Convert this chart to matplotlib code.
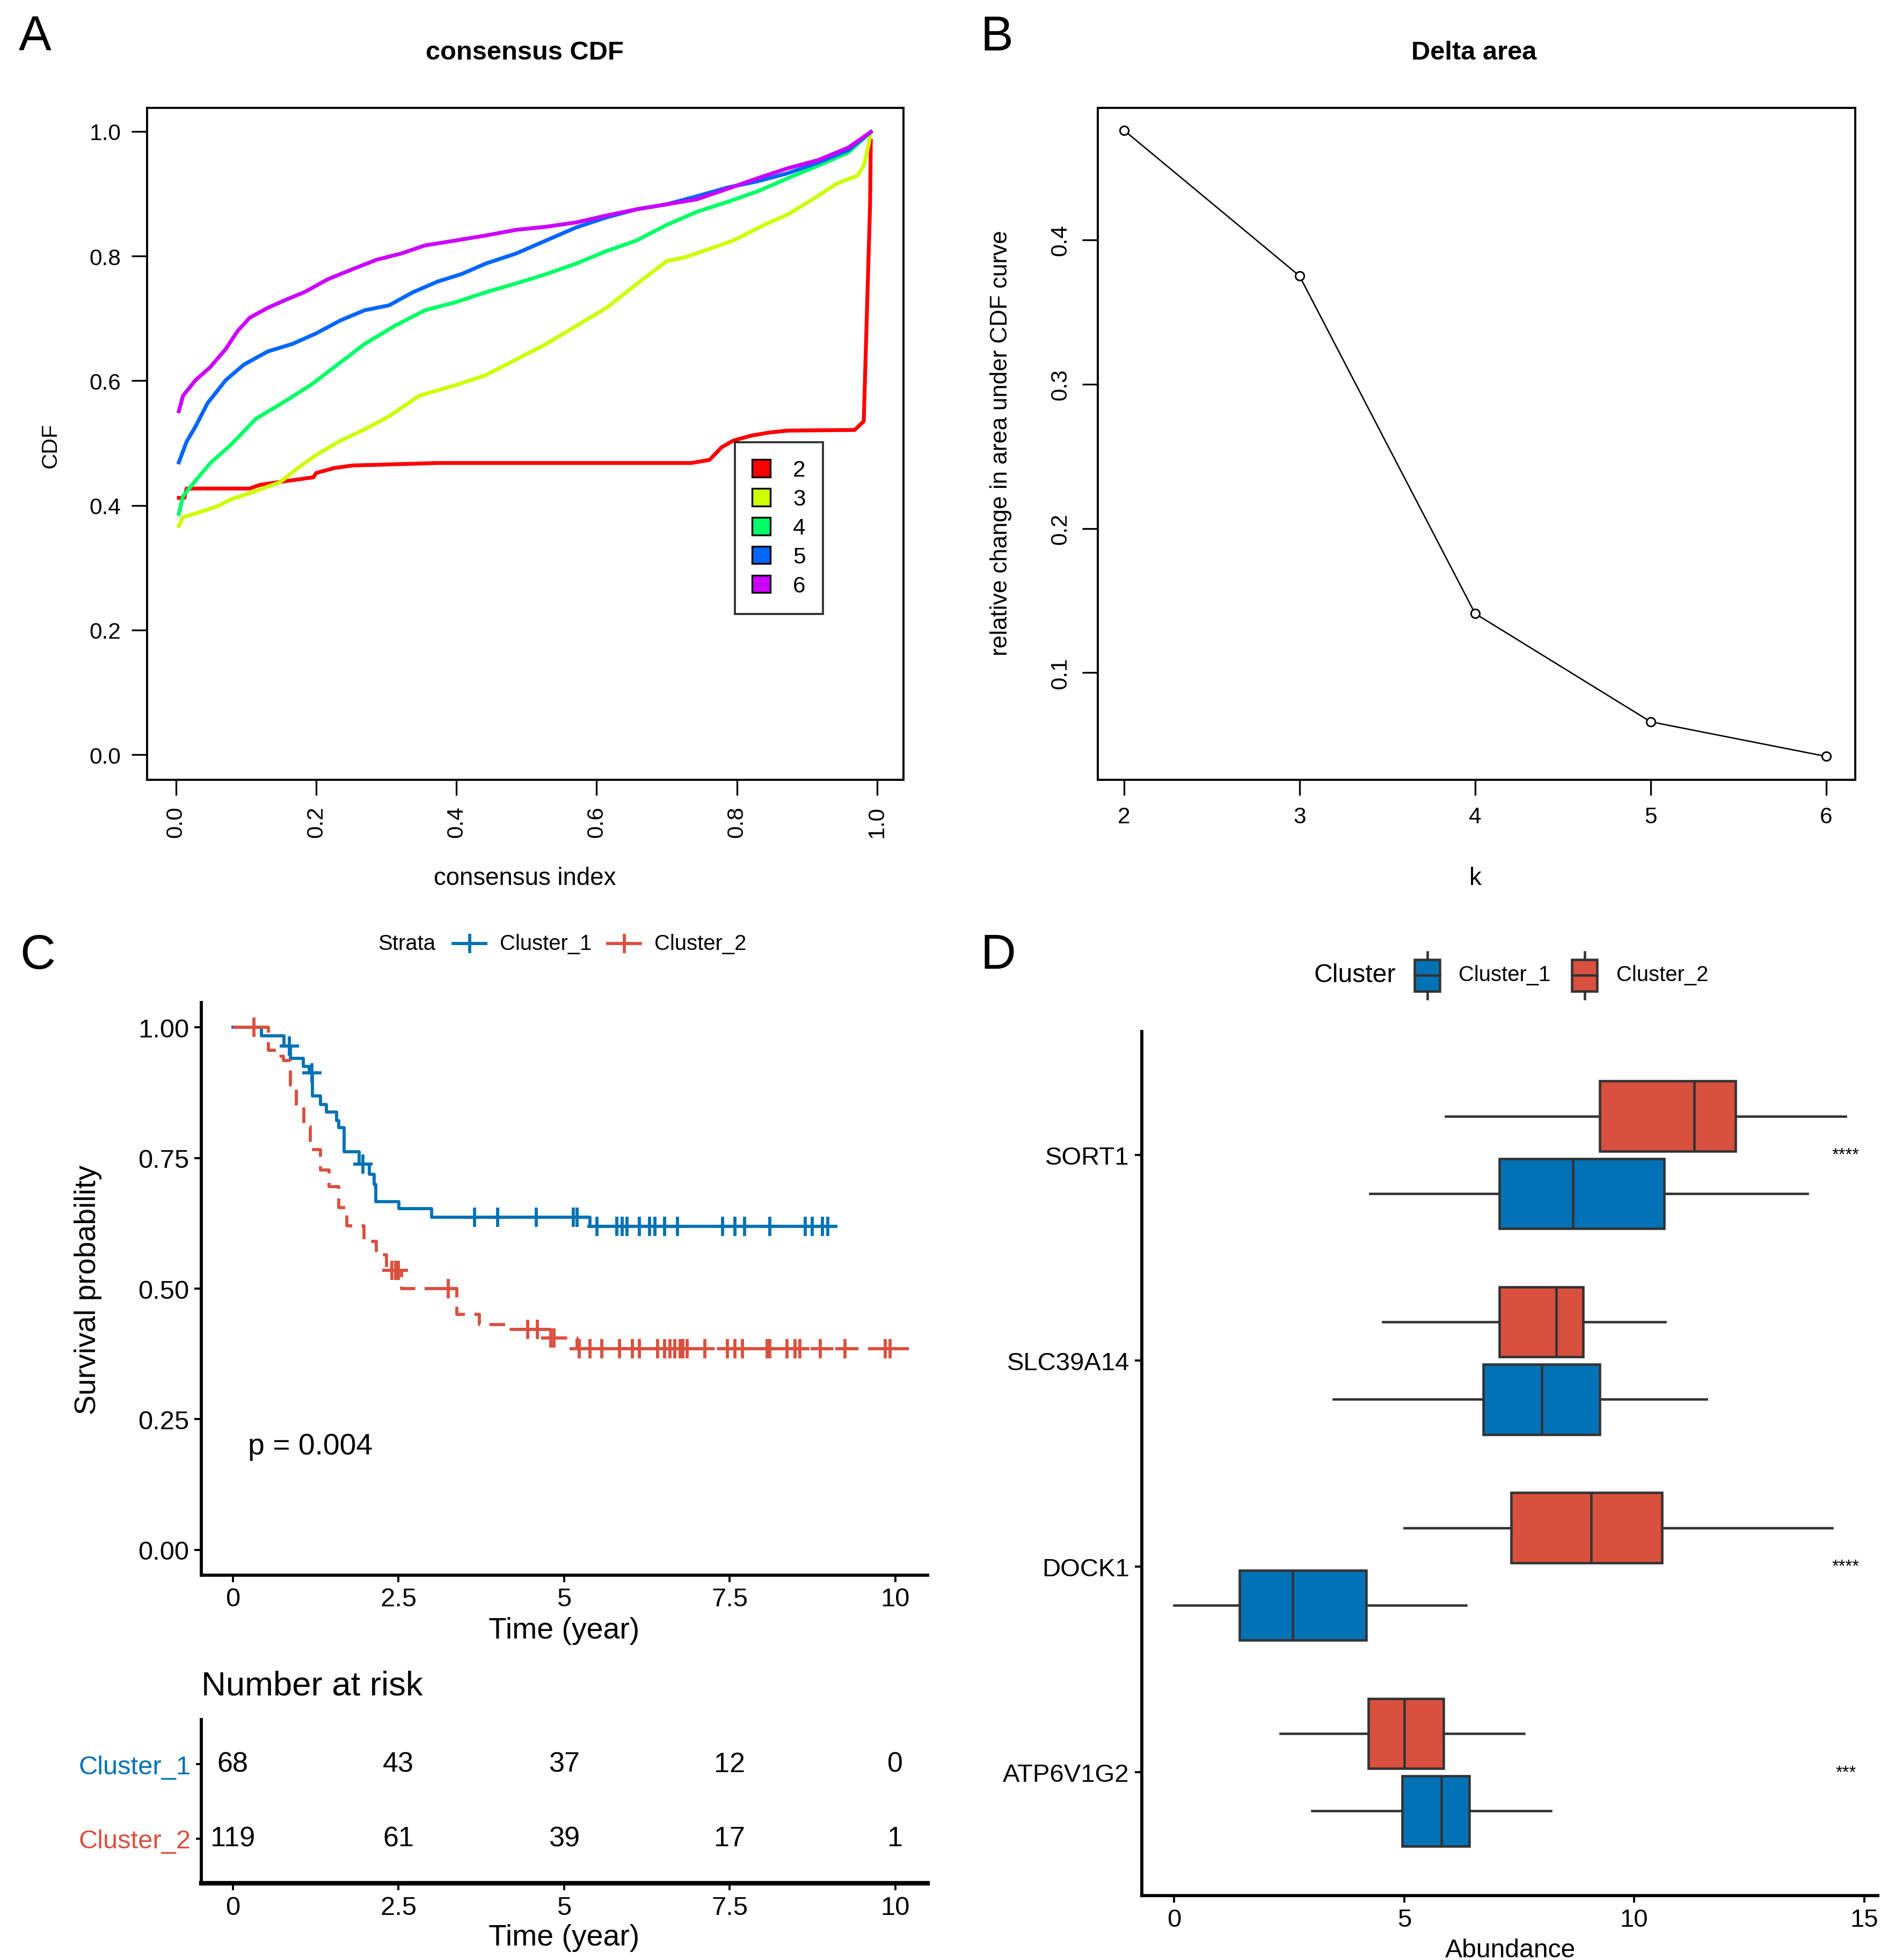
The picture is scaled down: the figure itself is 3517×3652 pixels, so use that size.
import numpy as np
import matplotlib
matplotlib.use('Agg')
import matplotlib.pyplot as plt
from matplotlib.lines import Line2D
from matplotlib.patches import Patch, Rectangle

plt.rcParams['font.family'] = ['Liberation Sans', 'DejaVu Sans']

# ---------------- Panel A: consensus CDF ----------------
cdf_labels = ['2', '3', '4', '5', '6']
cdf_colors = ['#FF0000', '#CCFF00', '#00FF66', '#0066FF', '#CC00FF']
k2_x = [0.004, 0.012, 0.015, 0.105, 0.12, 0.157, 0.196, 0.2, 0.226, 0.252, 0.373, 0.735, 0.761, 0.778,
        0.795, 0.821, 0.847, 0.873, 0.968, 0.981, 0.984, 0.987, 0.99, 0.991]
k2_y = [0.412, 0.412, 0.427, 0.427, 0.433, 0.439, 0.445, 0.452, 0.46, 0.464, 0.468, 0.468, 0.473, 0.493,
        0.504, 0.512, 0.517, 0.52, 0.521, 0.535, 0.651, 0.767, 0.883, 0.985]
k3_x = [0.004, 0.01, 0.036, 0.058, 0.079, 0.114, 0.148, 0.174, 0.2, 0.235, 0.269, 0.304, 0.347,
        0.399, 0.442, 0.485, 0.528, 0.571, 0.614, 0.657, 0.7, 0.726, 0.752, 0.795, 0.839, 0.873,
        0.908, 0.942, 0.972, 0.981, 0.987, 0.991]
k3_y = [0.367, 0.381, 0.39, 0.398, 0.41, 0.423, 0.437, 0.46, 0.481, 0.504, 0.522, 0.543, 0.576,
        0.593, 0.609, 0.634, 0.659, 0.688, 0.717, 0.755, 0.792, 0.798, 0.808, 0.825, 0.85, 0.867,
        0.891, 0.916, 0.929, 0.945, 0.974, 0.999]
k4_x = [0.004, 0.01, 0.028, 0.049, 0.079, 0.114, 0.157, 0.192, 0.226, 0.269, 0.312, 0.355, 0.399,
        0.442, 0.485, 0.528, 0.571, 0.614, 0.657, 0.7, 0.743, 0.787, 0.83, 0.873, 0.916, 0.959, 0.991]
k4_y = [0.386, 0.415, 0.44, 0.468, 0.498, 0.539, 0.568, 0.593, 0.622, 0.659, 0.688, 0.713, 0.726,
        0.742, 0.756, 0.771, 0.788, 0.808, 0.825, 0.85, 0.871, 0.887, 0.904, 0.925, 0.945, 0.966, 0.999]
k5_x = [0.004, 0.015, 0.028, 0.045, 0.071, 0.097, 0.131, 0.166, 0.2, 0.235, 0.269, 0.304, 0.338,
        0.373, 0.407, 0.442, 0.485, 0.528, 0.571, 0.614, 0.657, 0.7, 0.743, 0.787, 0.83, 0.873,
        0.916, 0.959, 0.991]
k5_y = [0.469, 0.502, 0.527, 0.564, 0.601, 0.626, 0.647, 0.659, 0.676, 0.697, 0.713, 0.721, 0.742,
        0.759, 0.771, 0.788, 0.804, 0.825, 0.846, 0.862, 0.875, 0.883, 0.896, 0.91, 0.92, 0.933,
        0.95, 0.97, 0.999]
k6_x = [0.004, 0.01, 0.028, 0.049, 0.071, 0.088, 0.105, 0.131, 0.157, 0.183, 0.217, 0.252, 0.286,
        0.321, 0.355, 0.399, 0.442, 0.485, 0.528, 0.571, 0.614, 0.657, 0.7, 0.743, 0.787, 0.83,
        0.873, 0.916, 0.959, 0.991]
k6_y = [0.551, 0.576, 0.601, 0.622, 0.651, 0.68, 0.701, 0.717, 0.73, 0.742, 0.763, 0.779, 0.794,
        0.804, 0.817, 0.825, 0.833, 0.842, 0.847, 0.854, 0.865, 0.875, 0.883, 0.891, 0.908, 0.925,
        0.941, 0.954, 0.974, 0.999]

# ---------------- Panel B: delta area ----------------
k_vals = [2, 3, 4, 5, 6]
delta_area = [0.476, 0.375, 0.141, 0.066, 0.042]

# ---------------- Panel C: Kaplan-Meier ----------------
strata = ['Cluster_1', 'Cluster_2']
km1_t = [0, 0.43, 0.77, 0.87, 1.06, 1.15, 1.2, 1.32, 1.41, 1.57, 1.6, 1.68, 1.91, 2.06, 2.13, 2.16,
         2.51, 3.0, 5.39, 9.1]
km1_s = [1.0, 0.984, 0.964, 0.941, 0.925, 0.913, 0.869, 0.853, 0.838, 0.822, 0.808, 0.762, 0.738,
         0.719, 0.699, 0.667, 0.653, 0.637, 0.619, 0.619]
cens1_t = [0.85, 1.19, 1.96, 3.65, 4.0, 4.58, 5.14, 5.2, 5.5, 5.8, 5.88, 5.95, 6.14, 6.29, 6.37,
           6.52, 6.71, 7.39, 7.58, 7.73, 8.11, 8.64, 8.75, 8.9, 8.98]
km2_t = [0, 0.54, 0.66, 0.76, 0.87, 0.96, 1.07, 1.17, 1.32, 1.45, 1.6, 1.72, 1.98, 2.17, 2.32,
         2.55, 3.38, 3.72, 4.14, 4.78, 5.2, 10.26]
km2_s = [1.0, 0.956, 0.945, 0.937, 0.889, 0.85, 0.81, 0.766, 0.727, 0.695, 0.655, 0.62, 0.591,
         0.565, 0.535, 0.5, 0.451, 0.431, 0.422, 0.406, 0.385, 0.385]
cens2_t = [0.32, 2.40, 2.46, 2.5, 3.25, 4.45, 4.6, 4.8, 4.85, 5.23, 5.39, 5.57, 5.84, 6.03, 6.14,
           6.41, 6.52, 6.6, 6.67, 6.75, 6.79, 6.86, 7.13, 7.47, 7.58, 7.69, 8.07, 8.11, 8.37, 8.49,
           8.56, 8.87, 9.24, 9.85, 9.92]
p_label = 'p = 0.004'
risk_times = [0, 2.5, 5, 7.5, 10]
risk_c1 = [68, 43, 37, 12, 0]
risk_c2 = [119, 61, 39, 17, 1]
time_ticks = [0, 2.5, 5, 7.5, 10]
time_tick_labels = ['0', '2.5', '5', '7.5', '10']

# ---------------- Panel D: boxplots ----------------
genes = ['SORT1', 'SLC39A14', 'DOCK1', 'ATP6V1G2']
# whislo, q1, med, q3, whishi
c1_stats = [[4.25, 7.07, 8.67, 10.65, 13.77],
            [3.46, 6.72, 7.99, 9.25, 11.57],
            [0.0, 1.42, 2.58, 4.17, 6.35],
            [3.0, 4.95, 5.81, 6.41, 8.19]]
c2_stats = [[5.9, 9.25, 11.3, 12.2, 14.6],
            [4.53, 7.07, 8.31, 8.89, 10.67],
            [5.0, 7.32, 9.06, 10.6, 14.3],
            [2.31, 4.22, 5.0, 5.86, 7.61]]
signif = ['****', '', '****', '***']

BLUE = '#0072B5'
RED = '#DA503E'
EDGE = '#333333'

# ---------------- figure ----------------
W, H = 1500.0, 1558.0
fig = plt.figure(figsize=(15.0, 15.58), dpi=3517 / 15.0)


def rect(l, t, r, b):
    return [l / W, 1 - b / H, (r - l) / W, (b - t) / H]


# Panel A
axA = fig.add_axes(rect(117, 86, 718, 620))
for xs, ys, c in zip([k2_x, k3_x, k4_x, k5_x, k6_x], [k2_y, k3_y, k4_y, k5_y, k6_y], cdf_colors):
    axA.plot(xs, ys, color=c, lw=2.2)
axA.set_xlim(-0.041, 1.038)
axA.set_ylim(-0.04, 1.038)
axA.set_xticks([0, 0.2, 0.4, 0.6, 0.8, 1.0])
axA.set_xticklabels(['0.0', '0.2', '0.4', '0.6', '0.8', '1.0'], rotation=90)
axA.set_yticks([0, 0.2, 0.4, 0.6, 0.8, 1.0])
axA.set_yticklabels(['0.0', '0.2', '0.4', '0.6', '0.8', '1.0'])
axA.tick_params(labelsize=13, length=9, width=1.0, pad=6)
for s in axA.spines.values():
    s.set_linewidth(1.2)
handles = [Patch(facecolor=c, edgecolor='black', lw=1.0) for c in cdf_colors]
legA = axA.legend(handles, cdf_labels, loc='upper left', bbox_to_anchor=(584 / W, 1 - 352 / H),
                  bbox_transform=fig.transFigure, fontsize=13, frameon=True, fancybox=False,
                  edgecolor='black', handlelength=0.8, handleheight=0.8, labelspacing=0.33,
                  handletextpad=1.0, borderpad=0.75, borderaxespad=0)
legA.get_frame().set_linewidth(1.2)

# Panel B
axB = fig.add_axes(rect(872, 86, 1474, 620))
axB.plot(k_vals, delta_area, color='black', lw=0.8, marker='o', ms=5, mfc='white', mec='black', mew=0.9)
axB.set_xlim(1.85, 6.165)
axB.set_ylim(0.0259, 0.4916)
axB.set_xticks(k_vals)
axB.set_yticks([0.1, 0.2, 0.3, 0.4])
axB.set_yticklabels(['0.1', '0.2', '0.3', '0.4'], rotation=90, va='center')
axB.tick_params(labelsize=13, length=9, width=1.0, pad=6)
for s in axB.spines.values():
    s.set_linewidth(1.2)

# Panel C main
axC = fig.add_axes(rect(160, 797, 737, 1252))


def step_val(t, s, q):
    idx = np.searchsorted(np.asarray(t), np.asarray(q), side='right') - 1
    return np.asarray(s)[idx]


axC.step(km1_t, km1_s, where='post', color=BLUE, lw=1.8)
axC.step(km2_t, km2_s, where='post', color=RED, lw=1.8, linestyle=(0, (5, 3)))
axC.plot(cens1_t, step_val(km1_t, km1_s, cens1_t), ls='none', marker='+', ms=11, mew=1.8, color=BLUE)
axC.plot(cens2_t, step_val(km2_t, km2_s, cens2_t), ls='none', marker='+', ms=11, mew=1.8, color=RED)
axC.set_xlim(-0.475, 10.49)
axC.set_ylim(-0.048, 1.048)
axC.set_xticks(time_ticks)
axC.set_xticklabels(time_tick_labels)
axC.set_yticks([0, 0.25, 0.5, 0.75, 1.0])
axC.set_yticklabels(['0.00', '0.25', '0.50', '0.75', '1.00'])
axC.tick_params(labelsize=15, length=4, width=1.2, pad=3)
for sp in ['top', 'right']:
    axC.spines[sp].set_visible(False)
for sp in ['left', 'bottom']:
    axC.spines[sp].set_linewidth(1.8)
axC.text(0.23, 0.198, p_label, fontsize=17, ha='left', va='center')

# Risk table
axT = fig.add_axes(rect(160, 1367, 737, 1497))
axT.set_xlim(-0.475, 10.49)
axT.set_ylim(0.4, 2.6)
for t, a, b in zip(risk_times, risk_c1, risk_c2):
    axT.text(t, 2, str(a), fontsize=16, ha='center', va='center')
    axT.text(t, 1, str(b), fontsize=16, ha='center', va='center')
axT.set_xticks(time_ticks)
axT.set_xticklabels(time_tick_labels)
axT.set_yticks([2, 1])
axT.set_yticklabels(strata)
for lab, c in zip(axT.get_yticklabels(), [BLUE, RED]):
    lab.set_color(c)
axT.tick_params(axis='x', labelsize=15, length=4, width=1.2, pad=3)
axT.tick_params(axis='y', labelsize=15, length=3, width=1.2, pad=3)
for sp in ['top', 'right']:
    axT.spines[sp].set_visible(False)
axT.spines['left'].set_linewidth(1.8)
axT.spines['bottom'].set_linewidth(2.6)

# Panel D
axD = fig.add_axes(rect(907, 820, 1492, 1507))
cat_pos = [4, 3, 2, 1]
for stats_list, off, col in [(c1_stats, -0.188, BLUE), (c2_stats, 0.188, RED)]:
    bstats = [dict(whislo=s[0], q1=s[1], med=s[2], q3=s[3], whishi=s[4], fliers=[]) for s in stats_list]
    axD.bxp(bstats, positions=[p + off for p in cat_pos], widths=0.34, orientation='horizontal',
            patch_artist=True, showcaps=False, showfliers=False,
            boxprops=dict(facecolor=col, edgecolor=EDGE, lw=1.4),
            medianprops=dict(color=EDGE, lw=1.4),
            whiskerprops=dict(color=EDGE, lw=1.4))
for p, sg in zip(cat_pos, signif):
    if sg:
        axD.text(14.6, p, sg, fontsize=10, ha='center', va='center')
axD.set_xlim(-0.71, 15.3)
axD.set_ylim(0.4, 4.6)
axD.set_xticks([0, 5, 10, 15])
axD.set_xticklabels(['0', '5', '10', '15'])
axD.set_yticks(cat_pos)
axD.set_yticklabels(genes)
axD.tick_params(labelsize=14.5, length=4, width=1.2, pad=3)
for sp in ['top', 'right']:
    axD.spines[sp].set_visible(False)
for sp in ['left', 'bottom']:
    axD.spines[sp].set_linewidth(1.8)

# Overlay for titles, labels, legends
ov = fig.add_axes([0, 0, 1, 1], zorder=10)
ov.set_xlim(0, W)
ov.set_ylim(H, 0)
ov.axis('off')

for lab, x, y in [('A', 28, 30), ('B', 792, 30), ('C', 30, 760), ('D', 793, 760)]:
    ov.text(x, y, lab, fontsize=28, ha='center', va='center')

ov.text(417, 42, 'consensus CDF', fontsize=15, fontweight='bold', ha='center', va='center')
ov.text(417, 698, 'consensus index', fontsize=14, ha='center', va='center')
ov.text(40, 354, 'CDF', fontsize=12.5, rotation=90, ha='center', va='center')

ov.text(1171, 42, 'Delta area', fontsize=15, fontweight='bold', ha='center', va='center')
ov.text(1172, 698, 'k', fontsize=14, ha='center', va='center')
ov.text(795, 352, 'relative change in area under CDF curve', fontsize=13.5, rotation=90,
        ha='center', va='center')

ov.text(70, 1025, 'Survival probability', fontsize=17, rotation=90, ha='center', va='center')
ov.text(448, 1296, 'Time (year)', fontsize=17, ha='center', va='center')
ov.text(160, 1340, 'Number at risk', fontsize=19.5, ha='left', va='center')
ov.text(448, 1540, 'Time (year)', fontsize=17, ha='center', va='center')

# Legend C
ov.text(346, 750, 'Strata', fontsize=12.3, ha='right', va='center')
for xc, col, name in [(373, BLUE, strata[0]), (496, RED, strata[1])]:
    ov.add_line(Line2D([xc - 13, xc + 13], [750, 750], color=col, lw=1.8))
    ov.add_line(Line2D([xc], [750], color=col, marker='+', ms=11, mew=1.8))
    ov.text(xc + 24, 750, name, fontsize=12.3, ha='left', va='center')

# Legend D
ov.text(1109, 775, 'Cluster', fontsize=14.8, ha='right', va='center')
for xc, col, name in [(1134, BLUE, 'Cluster_1'), (1259, RED, 'Cluster_2')]:
    ov.add_patch(Rectangle((xc - 10, 763), 20, 25, facecolor=col, edgecolor=EDGE, lw=1.4))
    ov.add_line(Line2D([xc - 10, xc + 10], [775.5, 775.5], color=EDGE, lw=1.4))
    ov.add_line(Line2D([xc, xc], [757, 763], color=EDGE, lw=1.4))
    ov.add_line(Line2D([xc, xc], [788, 794], color=EDGE, lw=1.4))
    ov.text(xc + 25, 775, name, fontsize=12.3, ha='left', va='center')

ov.text(1200, 1550, 'Abundance', fontsize=14.8, ha='center', va='center')

fig.savefig('out.png', dpi=3517 / 15.0, facecolor='white')
